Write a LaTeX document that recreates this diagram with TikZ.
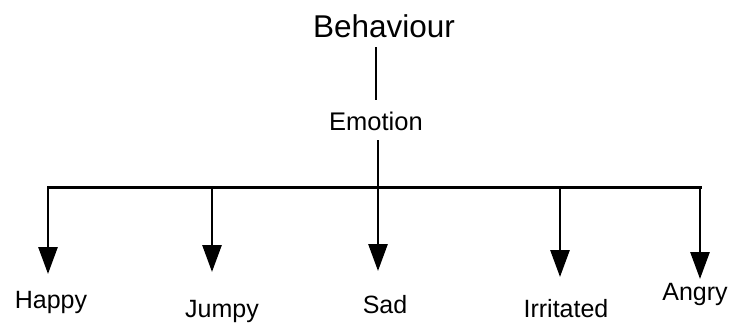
\documentclass[tikz,border=0pt]{standalone}
\usepackage{fontspec}
\setmainfont{Liberation Sans}
\usetikzlibrary{arrows.meta}
\begin{document}
\begin{tikzpicture}[x=1pt,y=-1pt,
  txt/.style={anchor=base, inner sep=0pt},
  big/.style={txt, font=\fontsize{31.5}{31.5}\selectfont},
  mid/.style={txt, font=\fontsize{25.5}{25.5}\selectfont},
  lbl/.style={txt, font=\fontsize{25}{25}\selectfont},
  stem/.style={line width=2.3pt},
  bar/.style={line width=3pt, line cap=rect},
  down/.style={line width=2.8pt, -{Triangle[length=27pt,width=19pt]}}]
\useasboundingbox (0,0) rectangle (738,325);

% headings
\node[big] (behaviour) at (384,37) {Behaviour};
\node[mid] (emotion) at (376,130) {Emotion};

% leaves
\node[lbl] (happy)     at (51,308)  {Happy};
\node[lbl] (jumpy)     at (222,317) {Jumpy};
\node[lbl] (sad)       at (385,313) {Sad};
\node[lbl] (irritated) at (566,317) {Irritated};
\node[lbl] (angry)     at (695,300) {Angry};

% stem points
\coordinate (b-out) at (376,47);
\coordinate (e-in)  at (376,100);
\coordinate (e-out) at (378,140);

% branch points on the bar and arrow tips
\coordinate (br-happy)     at (48,187);
\coordinate (br-jumpy)     at (212,187);
\coordinate (br-sad)       at (378,187);
\coordinate (br-irritated) at (560,187);
\coordinate (br-angry)     at (700,187);

\coordinate (tip-happy)     at (48,274);
\coordinate (tip-jumpy)     at (212,272);
\coordinate (tip-sad)       at (378,271);
\coordinate (tip-irritated) at (560,277);
\coordinate (tip-angry)     at (700,279);

\draw[stem] (b-out) -- (e-in);
\draw[stem] (e-out) -- (br-sad);
\draw[bar] (br-happy) -- (br-angry);

\draw[down] (br-happy) -- (tip-happy);
\draw[down] (br-jumpy) -- (tip-jumpy);
\draw[down] (br-sad) -- (tip-sad);
\draw[down] (br-irritated) -- (tip-irritated);
\draw[down] (br-angry) -- (tip-angry);
\end{tikzpicture}
\end{document}
